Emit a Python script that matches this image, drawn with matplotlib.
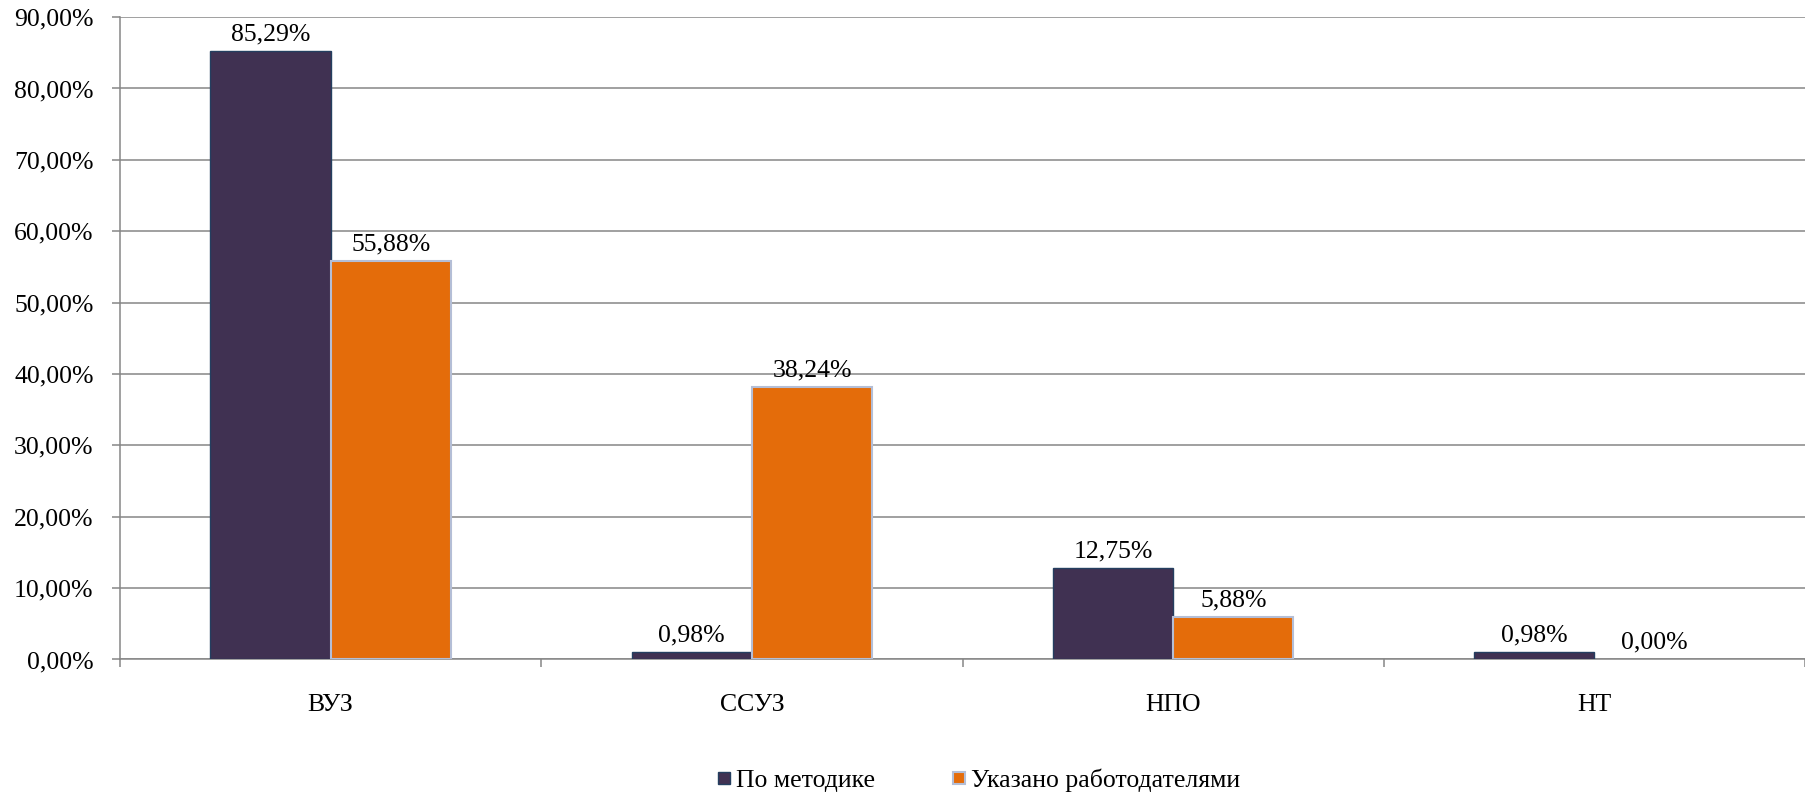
import matplotlib
matplotlib.use('Agg')
import numpy as np
import matplotlib.pyplot as plt
from matplotlib.lines import Line2D

plt.rcParams['font.family'] = ['Liberation Serif', 'DejaVu Serif']

categories = ['ВУЗ', 'ССУЗ', 'НПО', 'НТ']
by_method = [85.29, 0.98, 12.75, 0.98]
by_employers = [55.88, 38.24, 5.88, 0.00]
series_names = ['По методике', 'Указано работодателями']
yticks = [0, 10, 20, 30, 40, 50, 60, 70, 80, 90]

DARK = '#403152'
ORANGE = '#E46C0A'
GRID = '#868686'
FS = 18.5

def fmt(v):
    return f'{v:.2f}'.replace('.', ',') + '%'

fig = plt.figure(figsize=(18.05, 7.98), dpi=100)
ax = fig.add_axes([0.0665, 0.1736, 0.9335, 0.805])

x = np.arange(len(categories))
w = 0.2857
b1 = ax.bar(x - w / 2, by_method, w, color=DARK, edgecolor='#243F60', linewidth=1, zorder=3)
b2 = ax.bar(x + w / 2, by_employers, w, color=ORANGE, edgecolor='#B4BED6', linewidth=1.5, zorder=3)
# zero-height bar shows no outline in the original
for r, v in zip(b2, by_employers):
    if v == 0:
        r.set_linewidth(0)

for bars, vals in ((b1, by_method), (b2, by_employers)):
    for r, v in zip(bars, vals):
        ax.annotate(fmt(v), (r.get_x() + r.get_width() / 2, v), xytext=(0, 4),
                    textcoords='offset points', ha='center', va='bottom', fontsize=FS)

ax.set_xlim(-0.5, 3.5)
ax.set_ylim(0, 90)
ax.set_yticks(yticks)
ax.set_yticklabels([fmt(t) for t in yticks], fontsize=FS)
ax.yaxis.grid(True, color=GRID, linewidth=1.1, zorder=0)
ax.set_axisbelow(True)

ax.set_xticks(x)
ax.set_xticklabels(categories, fontsize=FS)
ax.set_xticks(np.arange(-0.5, 4.0, 1.0), minor=True)
ax.tick_params(axis='x', which='major', length=0, pad=25)
ax.tick_params(axis='x', which='minor', length=6, color=GRID, width=1.1)
ax.tick_params(axis='y', length=6, color=GRID, width=1.1, pad=13)

for s in ('top', 'right'):
    ax.spines[s].set_visible(False)
for s in ('left', 'bottom'):
    ax.spines[s].set_color(GRID)
    ax.spines[s].set_linewidth(1.1)

handles = [Line2D([], [], marker='s', linestyle='none', markersize=9,
                  markerfacecolor=DARK, markeredgecolor='#243F60'),
           Line2D([], [], marker='s', linestyle='none', markersize=9,
                  markerfacecolor=ORANGE, markeredgecolor='#B4BED6', markeredgewidth=1.5)]
fig.legend(handles, series_names, loc='center', bbox_to_anchor=(0.542, 0.022), ncol=2,
           frameon=False, fontsize=FS, handlelength=0.6, handletextpad=0.15, columnspacing=3.0)

fig.savefig('out.png', dpi=100)
